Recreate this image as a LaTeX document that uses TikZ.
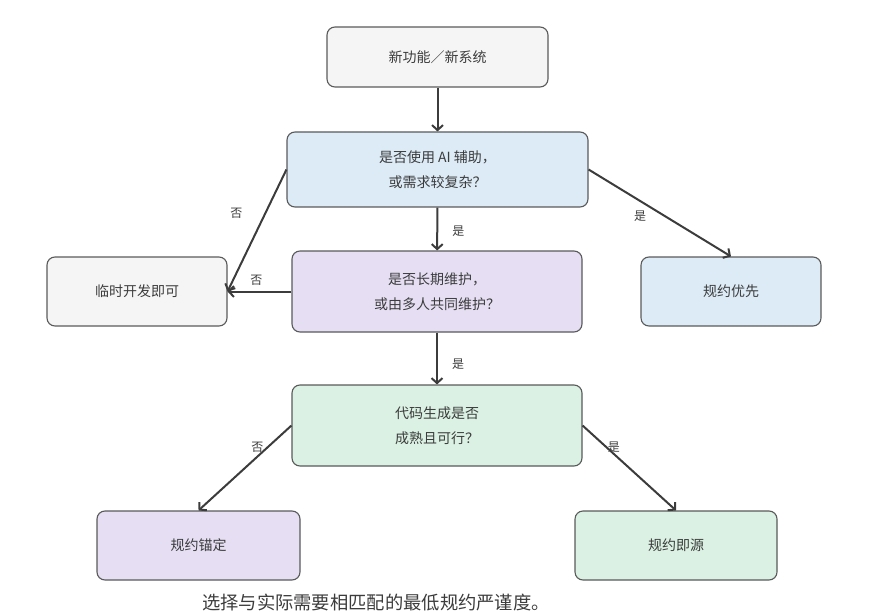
\documentclass[tikz,border=0pt]{standalone}
\usepackage{fontspec}
\setmainfont{Noto Sans CJK SC}
\usepackage{tikz}
\usetikzlibrary{arrows.meta,positioning}
\definecolor{boxline}{HTML}{5A5A5A}
\definecolor{fgray}{HTML}{F5F5F5}
\definecolor{fblue}{HTML}{DCEBF6}
\definecolor{flila}{HTML}{E6DFF4}
\definecolor{fgreen}{HTML}{DAF1E3}
\definecolor{ink}{HTML}{3C3C3C}
\tikzset{
  box/.style={rectangle,rounded corners=8pt,draw=boxline,line width=1.1pt,align=center,
    text=ink,font=\fontsize{14}{25}\selectfont},
  lbl/.style={font=\fontsize{12}{14}\selectfont,text=ink,inner sep=2pt},
  flow/.style={-{Straight Barb[length=5pt,width=11pt]},draw=ink,line width=2pt}
}
\begin{document}
\begin{tikzpicture}[x=1pt,y=-1pt]
\useasboundingbox (0,0) rectangle (874,612);
% \draw[help lines] (0,0) grid (874,612);
\node (s0) [box,fill=fgray,minimum width=221pt,minimum height=60pt] at (437.5,57) {新功能／新系统};
\node (s1) [box,fill=fblue,minimum width=301pt,minimum height=75pt] at (437.5,169.5) {是否使用 AI 辅助，\\或需求较复杂？};
\node (s2) [box,fill=fgray,minimum width=180pt,minimum height=69pt] at (137,291.5) {临时开发即可};
\node (s3) [box,fill=flila,minimum width=290pt,minimum height=81pt] at (437,291.5) {是否长期维护，\\或由多人共同维护？};
\node (s4) [box,fill=fblue,minimum width=180pt,minimum height=69pt] at (731,291.5) {规约优先};
\node (s5) [box,fill=fgreen,minimum width=290pt,minimum height=81pt] at (437,425.5) {代码生成是否\\成熟且可行？};
\node (s6) [box,fill=flila,minimum width=203pt,minimum height=69pt] at (198.5,545.5) {规约锚定};
\node (s7) [box,fill=fgreen,minimum width=202pt,minimum height=69pt] at (676,545.5) {规约即源};
\node (note) [text=ink,font=\fontsize{18.3}{20}\selectfont] at (376,603) {选择与实际需要相匹配的最低规约严谨度。};
%
\draw[flow](s0) -- (s1);
\draw[flow](s1.west) -- node[lbl,pos=0.36,left=20pt] {否} (s2.east);
\draw[flow](s1) -- node[lbl,right=12pt,pos=0.55] {是} (s3);
\draw[flow](s1.east) -- node[lbl,pos=0.44,below left=0pt and 2pt] {是} (s4.north);
\draw[flow](s3) -- node[lbl,above=3pt,pos=0.55] {否} (s2);
\draw[flow](s3) -- node[lbl,right=12pt,pos=0.6] {是} (s5);
\draw[flow](s5.west) -- node[lbl,pos=0.26,left=1pt] {否} (s6.north);
\draw[flow](s5.east) -- node[lbl,pos=0.26,right=-2pt] {是} (s7.north);
\end{tikzpicture}
\end{document}
